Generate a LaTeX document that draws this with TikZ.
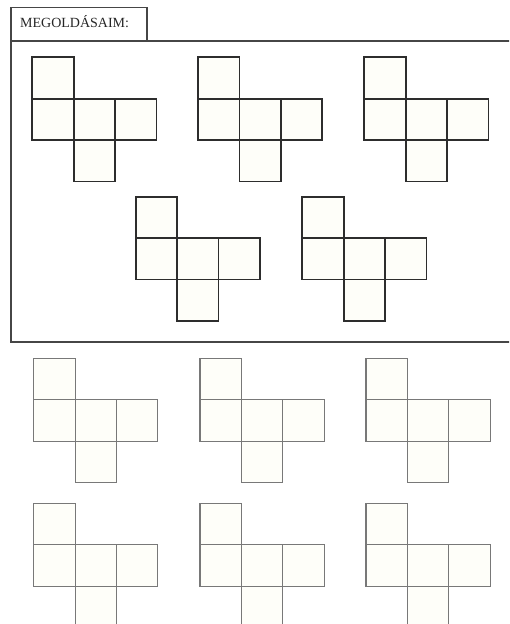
\documentclass[tikz,border=0pt]{standalone}
\usepackage{fontspec}
\setmainfont{Liberation Serif}
\definecolor{netfill}{RGB}{254,254,249}
\definecolor{darkline}{RGB}{45,45,45}
\definecolor{lightline}{RGB}{120,120,120}
\definecolor{boxline}{RGB}{70,70,70}
\newcommand{\sq}{41.4}
\tikzset{
  solidnet/.style={draw=darkline, line width=1.8pt},
  lightnet/.style={draw=lightline, line width=1.1pt},
  boxstyle/.style={draw=boxline, line width=1.8pt},
  cubenet/.pic={
    \fill[netfill] (0,0) rectangle (\sq,\sq) (0,\sq) rectangle (3*\sq,2*\sq) (\sq,2*\sq) rectangle (2*\sq,3*\sq);
    \draw (0,0) rectangle (\sq,\sq);
    \draw (0,\sq) rectangle (3*\sq,2*\sq);
    \draw (\sq,\sq) -- (\sq,2*\sq) (2*\sq,\sq) -- (2*\sq,2*\sq);
    \draw (\sq,2*\sq) rectangle (2*\sq,3*\sq);
  }
}
\begin{document}
\begin{tikzpicture}[x=1pt,y=-1pt]
\useasboundingbox (0,0) rectangle (509,624);
\clip (0,0) rectangle (509,624);
\fill[white] (0,0) rectangle (509,624);
% frame
\draw[boxstyle] (11,7.5) rectangle (146.7,41);
\draw[boxstyle] (11,41) rectangle (520,342);
\node[anchor=west, inner sep=0pt, text=black!85] (title) at (20,21.5) {\fontsize{14}{16}\selectfont MEGOLDÁSAIM:};
% solutions
\foreach \x/\y in {32.3/57.3, 198/57.3, 364.3/57.3, 135.7/196.7, 302.3/196.7}
  \pic[solidnet] at (\x,\y) {cubenet};
% exercises
\foreach \x/\y in {33.7/358.3, 200/358.3, 366/358.3, 33.7/503.3, 200/503.3, 366/503.3}
  \pic[lightnet] at (\x,\y) {cubenet};
\end{tikzpicture}
\end{document}
